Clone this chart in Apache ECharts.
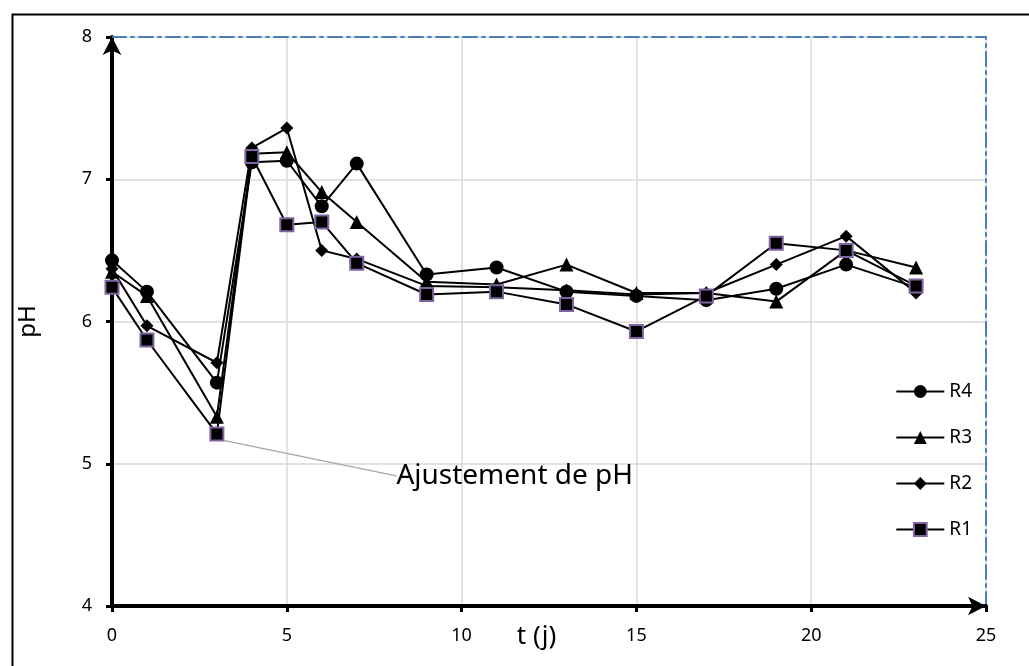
<!DOCTYPE html>
<html>
<head>
<meta charset="utf-8">
<script src="https://cdn.jsdelivr.net/npm/echarts@6/dist/echarts.min.js"></script>
<style>
  html, body { margin: 0; padding: 0; background: #fff; }
  #chart { width: 1029px; height: 666px; }
</style>
</head>
<body>
<div id="chart"></div>
<script>
// temps (jours)
var days = [0, 1, 3, 4, 5, 6, 7, 9, 11, 13, 15, 17, 19, 21, 23]
// pH par réacteur
var r4 = [6.43, 6.21, 5.57, 7.12, 7.13, 6.81, 7.11, 6.33, 6.38, 6.21, 6.18, 6.15, 6.23, 6.40, 6.24]
var r3 = [6.35, 6.18, 5.33, 7.18, 7.19, 6.91, 6.70, 6.28, 6.26, 6.40, 6.20, 6.20, 6.14, 6.50, 6.38]
var r2 = [6.37, 5.97, 5.71, 7.22, 7.36, 6.50, 6.44, 6.25, 6.24, 6.22, 6.19, 6.20, 6.40, 6.60, 6.20]
var r1 = [6.24, 5.87, 5.21, 7.16, 6.68, 6.70, 6.41, 6.19, 6.21, 6.12, 5.93, 6.18, 6.55, 6.50, 6.25]
var seriesNames = ['R4', 'R3', 'R2', 'R1']
var annotation = 'Ajustement de pH'

function pairs(vals) {
  return days.map(function (d, i) { return [d, vals[i]] })
}

var chart = echarts.init(document.getElementById('chart'))

var baseLine = { color: '#000', width: 2 }

function mkSeries(name, vals, symbol, size, extra) {
  var s = {
    name: name,
    type: 'line',
    data: pairs(vals),
    symbol: symbol,
    symbolSize: size,
    showAllSymbol: true,
    lineStyle: baseLine,
    itemStyle: { color: '#000' },
    z: 3
  }
  if (extra) {
    for (var k in extra) s[k] = extra[k]
  }
  return s
}

var r1Data = pairs(r1).map(function (p, i) {
  if (i === 2) {
    return {
      value: p,
      label: {
        show: true,
        position: 'right',
        formatter: annotation,
        fontSize: 28,
        color: '#000',
        fontFamily: 'Noto Sans'
      },
      labelLine: { show: true, lineStyle: { color: '#a6a6a6', width: 1.5 } }
    }
  }
  return p
})

var option = {
  animation: false,
  textStyle: { fontFamily: 'Noto Sans' },
  graphic: [{
    type: 'rect',
    left: 10,
    top: 12,
    shape: { width: 1040, height: 700 },
    style: { fill: 'none', stroke: '#000', lineWidth: 2 },
    silent: true
  }],
  grid: { left: 112, right: 43, top: 37, bottom: 60, outerBoundsMode: 'none' },
  legend: {
    data: seriesNames,
    orient: 'vertical',
    right: 52,
    top: 377,
    itemGap: 27,
    itemWidth: 48,
    itemHeight: 16,
    textStyle: { fontSize: 19, color: '#000' }
  },
  xAxis: [{
    type: 'value',
    min: 0, max: 25, interval: 5,
    name: 't (j)',
    nameLocation: 'middle',
    nameGap: 18,
    nameMoveOverlap: false,
    nameTextStyle: { fontSize: 26, color: '#000', padding: [0, 25, 0, 0], verticalAlign: 'top' },
    axisLine: {
      show: true, onZero: false,
      lineStyle: { color: '#000', width: 4 },
      symbol: ['none', 'arrow'], symbolSize: [14, 18]
    },
    axisTick: { show: true, inside: false, length: 6, lineStyle: { color: '#000', width: 3 } },
    axisLabel: { fontSize: 18, color: '#000', margin: 21 },
    splitLine: { show: true, lineStyle: { color: '#d9d9d9', width: 1.5 } }
  }, {
    type: 'value',
    position: 'top',
    min: 0, max: 25,
    axisLine: { show: true, onZero: false, lineStyle: { color: '#4a7ebb', width: 2, type: [14, 5, 3, 5] } },
    axisTick: { show: false },
    axisLabel: { show: false },
    splitLine: { show: false }
  }],
  yAxis: [{
    type: 'value',
    min: 4, max: 8, interval: 1,
    name: 'pH',
    nameLocation: 'middle',
    nameGap: 72,
    nameMoveOverlap: false,
    nameTextStyle: { fontSize: 24, color: '#000' },
    axisLine: {
      show: true, onZero: false,
      lineStyle: { color: '#000', width: 4 },
      symbol: ['none', 'arrow'], symbolSize: [14, 18]
    },
    axisTick: { show: true, length: 6, lineStyle: { color: '#000', width: 3 } },
    axisLabel: { fontSize: 18, color: '#000', margin: 20 },
    splitLine: { show: true, lineStyle: { color: '#d9d9d9', width: 1.5 } }
  }, {
    type: 'value',
    position: 'right',
    min: 4, max: 8,
    axisLine: { show: true, onZero: false, lineStyle: { color: '#4a7ebb', width: 2, type: [14, 5, 3, 5] } },
    axisTick: { show: false },
    axisLabel: { show: false },
    splitLine: { show: false }
  }],
  series: [
    mkSeries('R4', r4, 'circle', 14),
    mkSeries('R3', r3, 'triangle', 14),
    mkSeries('R2', r2, 'diamond', 13),
    mkSeries('R1', r1, 'rect', 13, {
      data: r1Data,
      itemStyle: { color: '#000', borderColor: '#8064a2', borderWidth: 2 },
      labelLayout: function (params) {
        return { dx: 167, dy: 42 }
      }
    })
  ]
}

chart.setOption(option)
window.addEventListener('resize', function () {
  chart.resize()
})
</script>
</body>
</html>
